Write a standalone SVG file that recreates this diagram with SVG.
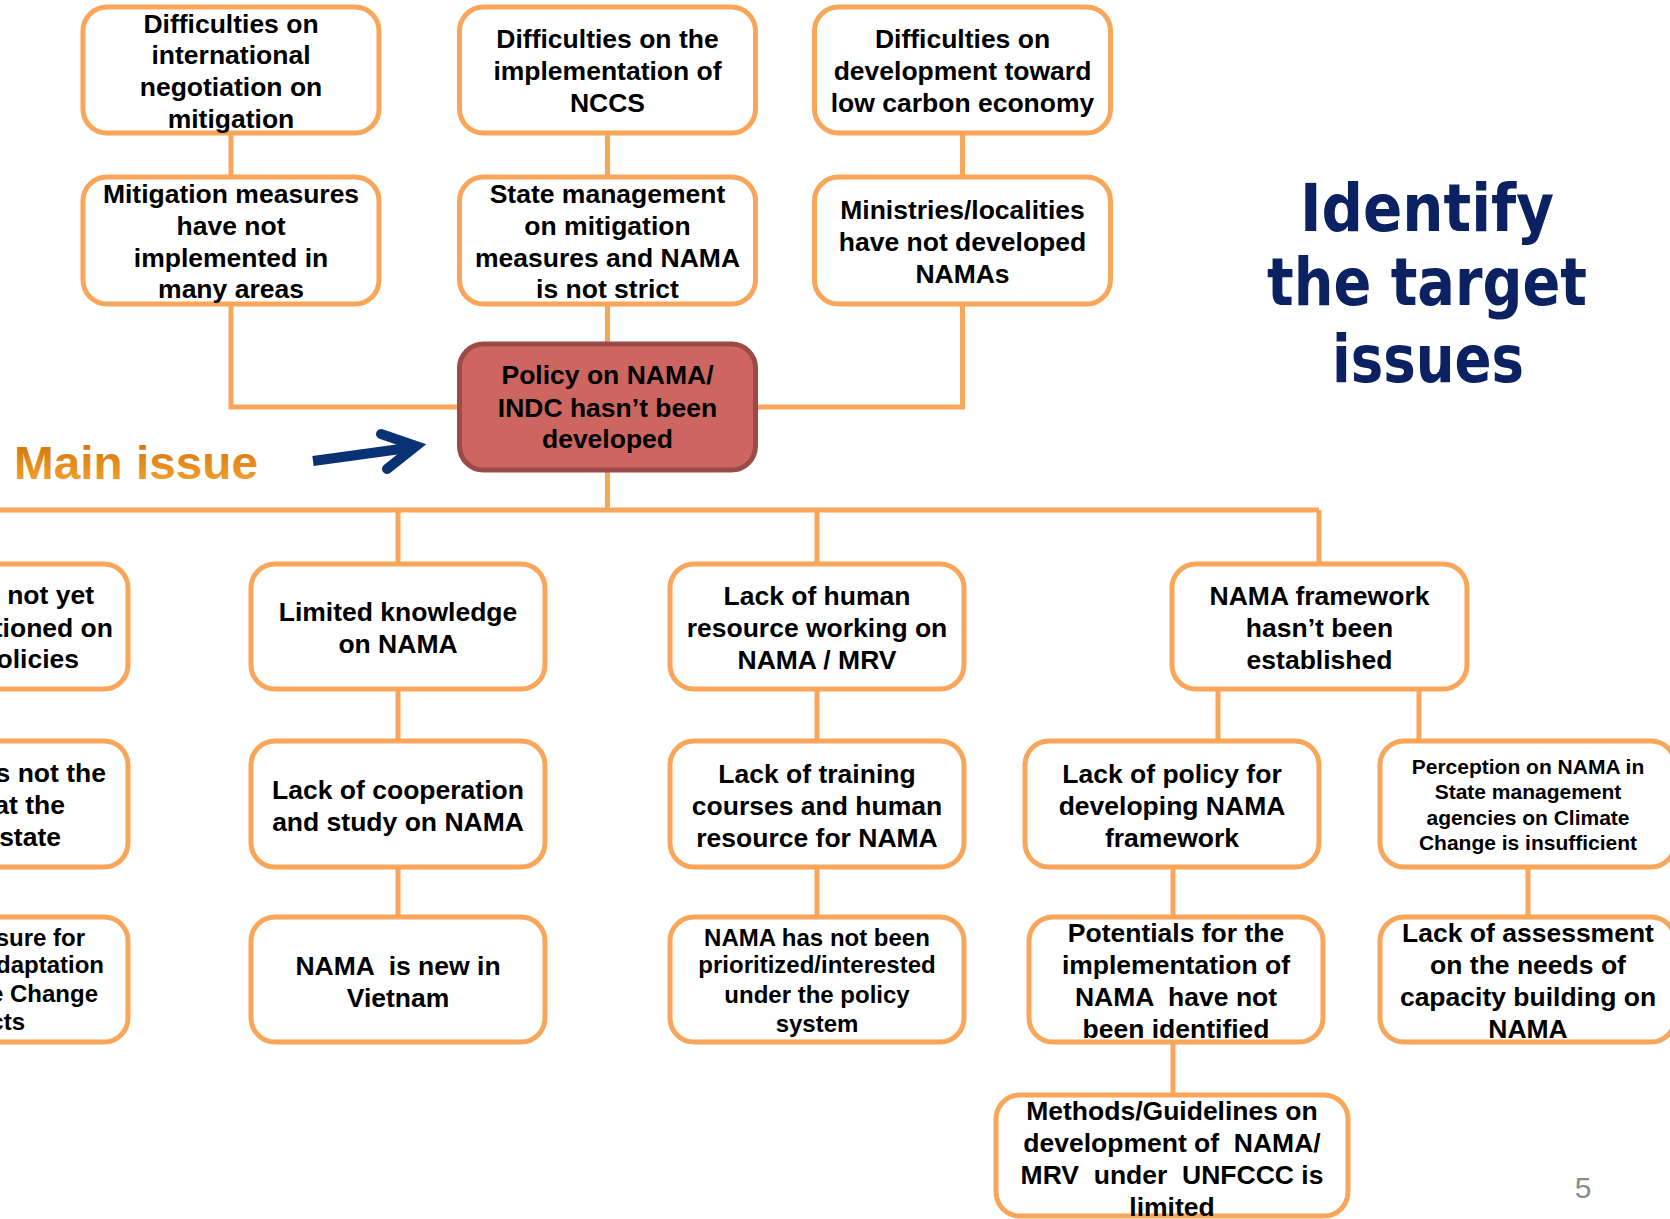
<svg xmlns="http://www.w3.org/2000/svg" width="1670" height="1219" viewBox="0 0 1670 1219">
<defs>
<style>
.box{fill:#fff;stroke:#F9A65A;stroke-width:5}
.main{fill:#CD6660;stroke:#9C4A46;stroke-width:5}
.t{font-family:"Liberation Sans",Arial,sans-serif;font-weight:bold;font-size:26.5px;text-anchor:middle;fill:#000;white-space:pre}
.s24{font-size:24px}
.s21{font-size:21px}
.e{text-anchor:end}
.c{fill:none;stroke:#F9A65A;stroke-width:5}
.title{font-family:"DejaVu Sans",Verdana,sans-serif;font-weight:bold;font-stretch:condensed;font-size:66px;fill:#0C2161;text-anchor:middle}
</style>
<linearGradient id="og" x1="0" y1="0" x2="0" y2="1">
<stop offset="0" stop-color="#CF6F05"/>
<stop offset="1" stop-color="#F7A833"/>
</linearGradient>
</defs>
<rect width="1670" height="1219" fill="#fff"/>

<g id="connectors">
<path class="c" d="M231 133V176 M607.5 133V176 M962.5 133V176"/>
<path class="c" d="M231 304V407H459 M607.5 304V342 M962.5 304V407H756"/>
<path class="c" d="M607.5 471V510 M0 510H1319 M398 510V563 M817 510V563 M1319 510V563"/>
<path class="c" d="M398 689V740 M398 867V916 M817 689V740 M817 867V916"/>
<path class="c" d="M1218 689V740 M1419 689V740 M1173 867V916 M1173 1042V1094 M1528 867V916"/>
</g>

<g id="n_intl">
<rect class="box" x="83" y="7" width="296" height="126" rx="24"/>
<text class="t"><tspan x="231" y="33">Difficulties on</tspan><tspan x="231" y="64">international</tspan><tspan x="231" y="96">negotiation on</tspan><tspan x="231" y="128">mitigation</tspan></text>
</g>
<g id="n_nccs">
<rect class="box" x="459.5" y="7" width="296" height="126" rx="24"/>
<text class="t"><tspan x="607.5" y="48">Difficulties on the</tspan><tspan x="607.5" y="80">implementation of</tspan><tspan x="607.5" y="112">NCCS</tspan></text>
</g>
<g id="n_lowcarbon">
<rect class="box" x="814.5" y="7" width="296" height="126" rx="24"/>
<text class="t"><tspan x="962.5" y="48">Difficulties on</tspan><tspan x="962.5" y="80">development toward</tspan><tspan x="962.5" y="112">low carbon economy</tspan></text>
</g>
<g id="n_mitig">
<rect class="box" x="83" y="177" width="296" height="127" rx="24"/>
<text class="t"><tspan x="231" y="203">Mitigation measures</tspan><tspan x="231" y="235">have not</tspan><tspan x="231" y="267">implemented in</tspan><tspan x="231" y="298">many areas</tspan></text>
</g>
<g id="n_state">
<rect class="box" x="459.5" y="177" width="296" height="127" rx="24"/>
<text class="t"><tspan x="607.5" y="203">State management</tspan><tspan x="607.5" y="235">on mitigation</tspan><tspan x="607.5" y="267">measures and NAMA</tspan><tspan x="607.5" y="298">is not strict</tspan></text>
</g>
<g id="n_ministries">
<rect class="box" x="814.5" y="177" width="296" height="127" rx="24"/>
<text class="t"><tspan x="962.5" y="219">Ministries/localities</tspan><tspan x="962.5" y="251">have not developed</tspan><tspan x="962.5" y="283">NAMAs</tspan></text>
</g>
<g id="n_main">
<rect class="main" x="459.5" y="344" width="296" height="126" rx="24"/>
<text class="t"><tspan x="607.5" y="384">Policy on NAMA/</tspan><tspan x="607.5" y="417">INDC hasn’t been</tspan><tspan x="607.5" y="448">developed</tspan></text>
</g>

<g id="main_issue">
<text x="14" y="479" font-family="Liberation Sans, Arial, sans-serif" font-weight="bold" font-size="46" fill="url(#og)" textLength="244" lengthAdjust="spacingAndGlyphs">Main issue</text>
<path d="M313 461L408 448" fill="none" stroke="#093275" stroke-width="10"/>
<path d="M381 434L416 446L387 469" fill="none" stroke="#093275" stroke-width="10" stroke-linecap="round" stroke-linejoin="miter"/>
</g>

<g id="title">
<text class="title" x="1427" y="231" textLength="254" lengthAdjust="spacingAndGlyphs">Identify</text>
<text class="title" x="1427" y="305" textLength="320" lengthAdjust="spacingAndGlyphs">the target</text>
<text class="title" x="1428" y="382" textLength="192" lengthAdjust="spacingAndGlyphs">issues</text>
</g>

<g id="n_left1">
<rect class="box" x="-168" y="564" width="296" height="125" rx="24"/>
<text class="t e"><tspan x="94" y="604">not yet</tspan><tspan x="113" y="637">tioned on</tspan><tspan x="79" y="668">olicies</tspan></text>
</g>
<g id="n_left2">
<rect class="box" x="-168" y="741" width="296" height="126" rx="24"/>
<text class="t e"><tspan x="106" y="782">s not the</tspan><tspan x="65" y="814">at the</tspan><tspan x="61" y="846">state</tspan></text>
</g>
<g id="n_left3">
<rect class="box" x="-168" y="917" width="296" height="125" rx="24"/>
<text class="t s24 e"><tspan x="85" y="946">sure for</tspan><tspan x="104" y="973">daptation</tspan><tspan x="98" y="1002">e Change</tspan><tspan x="25" y="1030">cts</tspan></text>
</g>

<g id="n_knowledge">
<rect class="box" x="251" y="564" width="294" height="125" rx="24"/>
<text class="t"><tspan x="398" y="621">Limited knowledge</tspan><tspan x="398" y="653">on NAMA</tspan></text>
</g>
<g id="n_cooperation">
<rect class="box" x="251" y="741" width="294" height="126" rx="24"/>
<text class="t"><tspan x="398" y="799">Lack of cooperation</tspan><tspan x="398" y="831">and study on NAMA</tspan></text>
</g>
<g id="n_new">
<rect class="box" x="251" y="917" width="294" height="125" rx="24"/>
<text class="t"><tspan x="398" y="975">NAMA  is new in</tspan><tspan x="398" y="1007">Vietnam</tspan></text>
</g>

<g id="n_human">
<rect class="box" x="670" y="564" width="294" height="125" rx="24"/>
<text class="t"><tspan x="817" y="605">Lack of human</tspan><tspan x="817" y="637">resource working on</tspan><tspan x="817" y="669">NAMA / MRV</tspan></text>
</g>
<g id="n_training">
<rect class="box" x="670" y="741" width="294" height="126" rx="24"/>
<text class="t"><tspan x="817" y="783">Lack of training</tspan><tspan x="817" y="815">courses and human</tspan><tspan x="817" y="847">resource for NAMA</tspan></text>
</g>
<g id="n_prioritized">
<rect class="box" x="670" y="917" width="294" height="125" rx="24"/>
<text class="t s24"><tspan x="817" y="946">NAMA has not been</tspan><tspan x="817" y="973">prioritized/interested</tspan><tspan x="817" y="1003">under the policy</tspan><tspan x="817" y="1032">system</tspan></text>
</g>

<g id="n_framework">
<rect class="box" x="1172" y="564" width="295" height="125" rx="24"/>
<text class="t"><tspan x="1319.5" y="605">NAMA framework</tspan><tspan x="1319.5" y="637">hasn’t been</tspan><tspan x="1319.5" y="669">established</tspan></text>
</g>
<g id="n_policy">
<rect class="box" x="1025" y="741" width="294" height="126" rx="24"/>
<text class="t"><tspan x="1172" y="783">Lack of policy for</tspan><tspan x="1172" y="815">developing NAMA</tspan><tspan x="1172" y="847">framework</tspan></text>
</g>
<g id="n_perception">
<rect class="box" x="1380" y="741" width="295" height="126" rx="24"/>
<text class="t s21"><tspan x="1528" y="774">Perception on NAMA in</tspan><tspan x="1528" y="799">State management</tspan><tspan x="1528" y="825">agencies on Climate</tspan><tspan x="1528" y="850">Change is insufficient</tspan></text>
</g>
<g id="n_potentials">
<rect class="box" x="1029" y="917" width="294" height="125" rx="24"/>
<text class="t"><tspan x="1176" y="942">Potentials for the</tspan><tspan x="1176" y="974">implementation of</tspan><tspan x="1176" y="1006">NAMA  have not</tspan><tspan x="1176" y="1038">been identified</tspan></text>
</g>
<g id="n_assessment">
<rect class="box" x="1380" y="917" width="295" height="125" rx="24"/>
<text class="t"><tspan x="1528" y="942">Lack of assessment</tspan><tspan x="1528" y="974">on the needs of</tspan><tspan x="1528" y="1006">capacity building on</tspan><tspan x="1528" y="1038">NAMA</tspan></text>
</g>
<g id="n_methods">
<rect class="box" x="996" y="1095" width="352" height="121" rx="24"/>
<text class="t"><tspan x="1172" y="1120">Methods/Guidelines on</tspan><tspan x="1172" y="1152">development of  NAMA/</tspan><tspan x="1172" y="1184">MRV  under  UNFCCC is</tspan><tspan x="1172" y="1216">limited</tspan></text>
</g>

<text x="1583" y="1198" font-family="Liberation Sans, Arial, sans-serif" font-size="30" fill="#8B8B8B" text-anchor="middle">5</text>
</svg>
